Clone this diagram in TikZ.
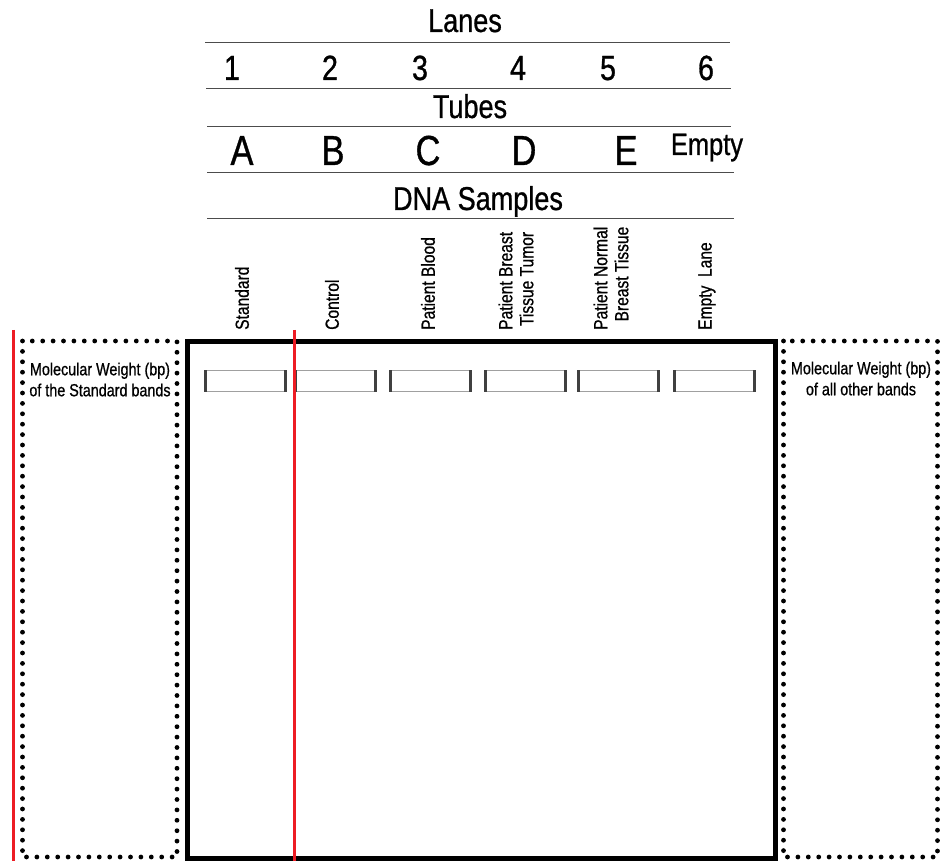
\documentclass[tikz,border=0pt]{standalone}
\usepackage{fontspec}
\setmainfont{Liberation Sans}[FakeStretch=0.82,FakeBold=0.8]
\definecolor{cutred}{RGB}{237,28,36}
\definecolor{wellgray}{RGB}{160,160,160}

\begin{document}
\begin{tikzpicture}[x=1pt,y=-1pt,
    header/.style={font=\fontsize{33}{35}\selectfont,inner sep=0pt,anchor=base},
    lanenum/.style={font=\fontsize{35}{37}\selectfont,inner sep=0pt,anchor=base},
    tubeletter/.style={font=\fontsize{42}{44}\selectfont,inner sep=0pt,anchor=base},
    samplelbl/.style={font=\fontsize{19}{21}\selectfont,rotate=90,anchor=west,
      align=right,inner sep=0pt},
    mwlbl/.style={font=\fontsize{17.5}{21}\selectfont,align=center,inner sep=0pt},
    tablerule/.style={line width=0.9pt,black!70},
    dotbox/.style={line width=4.8pt,line cap=round,dash pattern=on 0pt off 10.4pt},
    wellbox/.style={draw=wellgray,line width=0.8pt,minimum width=79pt,
      minimum height=21pt,inner sep=0pt}]
  \useasboundingbox (0,0) rectangle (946,861);

  % table of lanes, tubes and samples
  \node[header] (lanes) at (465,32) {Lanes};
  \draw[tablerule] (205,42) -- (730,42);
  \foreach \n/\x in {1/232,2/330,3/420,4/518,5/608,6/706}
    \node[lanenum] (lane\n) at (\x,80) {\n};
  \draw[tablerule] (206,88) -- (731,88);
  \node[header] (tubes) at (470,118) {Tubes};
  \draw[tablerule] (207,126) -- (731,126);
  \foreach \t/\x in {A/242,B/333,C/428,D/524,E/626}
    \node[tubeletter] (tube\t) at (\x,165) {\t};
  \node[header,font=\fontsize{31}{33}\selectfont] (tubeEmpty) at (707,155) {Empty};
  \draw[tablerule] (207,172) -- (734,172);
  \node[header] (samples) at (478,210) {DNA Samples};
  \draw[tablerule] (207,218) -- (734,218);

  % sample names
  \node[samplelbl] (sStandard) at (242,330) {Standard};
  \node[samplelbl] (sControl) at (332,330) {Control};
  \node[samplelbl] (sBlood) at (428,330) {Patient Blood};
  \node[samplelbl] (sTumor) at (516,330) {Patient Breast\\Tissue Tumor};
  \node[samplelbl] (sNormal) at (611,330) {Patient Normal\\Breast Tissue};
  \node[samplelbl] (sEmpty) at (707,330) {Empty\ \ Lane};

  % gel and wells
  \draw[line width=5pt] (187.5,341.5) rectangle (775,858);
  \foreach \w/\x in {1/245.5,2/335.5,3/430.5,4/525.5,5/618.5,6/714.5}{
    \node[wellbox] (well\w) at (\x,381) {};
    \draw[line width=2.6pt,black!75] (well\w.north west) -- (well\w.south west);
    \draw[line width=2.6pt,black!75] (well\w.north east) -- (well\w.south east);
  }

  % molecular weight boxes
  \draw[dotbox] (22.5,341) rectangle (177,857);
  \draw[dotbox] (783.5,341) rectangle (937.5,857);
  \node[mwlbl] (mwleft) at (100,379.5) {Molecular Weight (bp)\\of the Standard bands};
  \node[mwlbl] (mwright) at (861,378.5) {Molecular Weight (bp)\\of all other bands};

  % cut lines
  \draw[cutred,line width=3pt] (13.8,330) -- (13.8,861);
  \draw[cutred,line width=3pt] (294,330) -- (294,861);
\end{tikzpicture}
\end{document}
